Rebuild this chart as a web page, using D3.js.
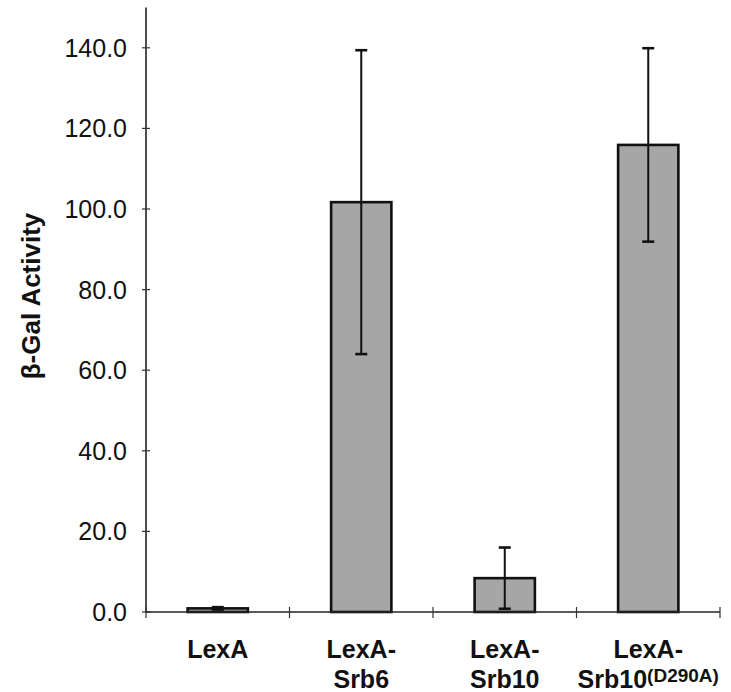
<!DOCTYPE html>
<html><head><meta charset="utf-8">
<script src="https://cdn.jsdelivr.net/npm/d3@7"></script>
<style>body{margin:0;background:#fff}svg{display:block}</style>
</head><body>
<script>
const categories = ["LexA", "LexA-Srb6", "LexA-Srb10", "LexA-Srb10(D290A)"];
const labelLine1 = ["LexA", "LexA-", "LexA-", "LexA-"];
const labelLine2 = ["", "Srb6", "Srb10", "Srb10"];
const labelSup = ["", "", "", "(D290A)"];
const values = [0.9, 101.7, 8.4, 115.9];
const errors = [0.3, 37.7, 7.6, 24.0];
const yTicks = [0, 20, 40, 60, 80, 100, 120, 140];

const W = 731, H = 692;
const svg = d3.select("body").append("svg").attr("width", W).attr("height", H);

const x = d3.scaleBand().domain(categories).range([146, 720]).paddingInner(0.58).paddingOuter(0.29);
const y = d3.scaleLinear().domain([0, 150]).range([612, 7.5]);
const step = x.step();
const font = "Liberation Sans, Arial, Helvetica, sans-serif";

// bars
svg.selectAll("rect.bar").data(categories).enter().append("rect")
  .attr("x", d => x(d)).attr("width", x.bandwidth())
  .attr("y", (d, i) => y(values[i])).attr("height", (d, i) => y(0) - y(values[i]))
  .attr("fill", "#a6a6a6").attr("stroke", "#111").attr("stroke-width", 2.6);

// error bars
const eb = svg.selectAll("g.err").data(categories).enter().append("g");
eb.append("line")
  .attr("x1", d => x(d) + x.bandwidth() / 2).attr("x2", d => x(d) + x.bandwidth() / 2)
  .attr("y1", (d, i) => y(values[i] + errors[i])).attr("y2", (d, i) => y(values[i] - errors[i]))
  .attr("stroke", "#111").attr("stroke-width", 2);
[1, -1].forEach(s => {
  eb.append("line")
    .attr("x1", d => x(d) + x.bandwidth() / 2 - 6).attr("x2", d => x(d) + x.bandwidth() / 2 + 6)
    .attr("y1", (d, i) => y(values[i] + s * errors[i])).attr("y2", (d, i) => y(values[i] + s * errors[i]))
    .attr("stroke", "#111").attr("stroke-width", 2.6);
});

// y axis
const yAxis = svg.append("g").attr("transform", "translate(146,0)");
yAxis.append("line").attr("x1", 0).attr("x2", 0).attr("y1", y(150)).attr("y2", y(0))
  .attr("stroke", "#222").attr("stroke-width", 1.6);
yAxis.selectAll("line.tk").data(yTicks).enter().append("line")
  .attr("x1", -4).attr("x2", 4).attr("y1", d => y(d)).attr("y2", d => y(d))
  .attr("stroke", "#333").attr("stroke-width", 1.2);
yAxis.selectAll("text").data(yTicks).enter().append("text")
  .attr("x", -19).attr("y", d => y(d)).attr("dy", "0.36em")
  .attr("text-anchor", "end").attr("font-family", font)
  .attr("font-size", 25).attr("fill", "#111").text(d => d.toFixed(1));

// x axis
svg.append("line").attr("x1", 146).attr("x2", 720).attr("y1", y(0)).attr("y2", y(0))
  .attr("stroke", "#222").attr("stroke-width", 1.6);
svg.selectAll("line.xt").data(d3.range(categories.length + 1)).enter().append("line")
  .attr("x1", i => 146 + i * step).attr("x2", i => 146 + i * step)
  .attr("y1", y(0) - 5).attr("y2", y(0) + 6)
  .attr("stroke", "#333").attr("stroke-width", 1.2);

// x labels
const lab = svg.selectAll("g.lab").data(categories).enter().append("g")
  .attr("font-family", font).attr("font-weight", "bold")
  .attr("font-size", 25).attr("fill", "#111");
lab.append("text").attr("x", d => x(d) + x.bandwidth() / 2).attr("y", 658)
  .attr("text-anchor", "middle").text((d, i) => labelLine1[i]);
const t2 = lab.append("text").attr("x", d => x(d) + x.bandwidth() / 2).attr("y", 688)
  .attr("text-anchor", "middle");
t2.append("tspan").text((d, i) => labelLine2[i]);
t2.append("tspan").attr("font-size", 19).attr("dy", -6).text((d, i) => labelSup[i]);

// y label
svg.append("text").attr("transform", "translate(40,296) rotate(-90)")
  .attr("text-anchor", "middle").attr("font-family", font)
  .attr("font-weight", "bold").attr("font-size", 26).attr("fill", "#111")
  .text("β-Gal Activity");
</script>
</body></html>
